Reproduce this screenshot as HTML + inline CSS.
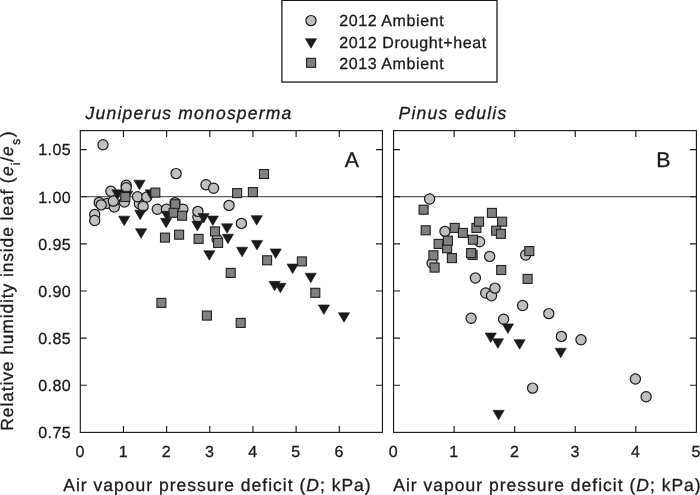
<!DOCTYPE html>
<html><head><meta charset="utf-8"><title>Figure</title>
<style>
html,body{margin:0;padding:0;background:#fff;}
body{width:700px;height:495px;overflow:hidden;}
svg{display:block;will-change:transform;text-rendering:geometricPrecision;font-family:"Liberation Sans",Arial,Helvetica,sans-serif;fill:#1a1a1a;}
.fr{fill:none;stroke:#1a1a1a;stroke-width:1.15;}
.tk{stroke:#1a1a1a;stroke-width:1.15;fill:none;}
.c circle{fill:#bfbfbf;stroke:#1a1a1a;stroke-width:1.2;}
.t path{fill:#1a1a1a;stroke:#1a1a1a;stroke-width:0.6;stroke-linejoin:miter;}
.s rect{fill:#808080;stroke:#1f1f1f;stroke-width:1.1;}
.tl{font-size:16px;letter-spacing:0.45px;}
.ax{font-size:17.5px;}
.it{font-style:italic;}
text{stroke:#1a1a1a;stroke-width:0.3px;}
</style></head><body>
<svg width="700" height="495" viewBox="0 0 700 495">
<rect x="0" y="0" width="700" height="495" fill="#fff"/>

<rect class="fr" x="281.9" y="0.35" width="215.1" height="81.7" style="stroke-width:1.3"/>
<g class="c"><circle cx="311" cy="20.6" r="5.1"/></g>
<g class="t"><path d="M305.40 38.65H316.60L311.00 48.15Z"/></g>
<g class="s"><rect x="306.60" y="58.30" width="9.0" height="9.0"/></g>
<text class="lg" id="lg0" x="339.2" y="26.2" font-size="16" letter-spacing="0.6">2012 Ambient</text>
<text class="lg" id="lg1" x="339.2" y="47.5" font-size="16" letter-spacing="0.6">2012 Drought+heat</text>
<text class="lg" id="lg2" x="339.2" y="68.9" font-size="16" letter-spacing="0.6">2013 Ambient</text>
<text id="tA" class="ax it" x="85.6" y="119.2" letter-spacing="1.2">Juniperus monosperma</text>
<text id="tB" class="ax it" x="398.6" y="119.2" letter-spacing="1.2">Pinus edulis</text>
<path d="M80.3 196.73H382.45" style="stroke:#333;stroke-width:1;fill:none"/>
<path class="tk" d="M123.46 432.4v-6.5M123.46 130.6v6.5M166.63 432.4v-6.5M166.63 130.6v6.5M209.79 432.4v-6.5M209.79 130.6v6.5M252.96 432.4v-6.5M252.96 130.6v6.5M296.12 432.4v-6.5M296.12 130.6v6.5M339.29 432.4v-6.5M339.29 130.6v6.5M80.3 149.60h6.5M382.45 149.60h-6.5M80.3 196.73h6.5M382.45 196.73h-6.5M80.3 243.86h6.5M382.45 243.86h-6.5M80.3 290.99h6.5M382.45 290.99h-6.5M80.3 338.12h6.5M382.45 338.12h-6.5M80.3 385.25h6.5M382.45 385.25h-6.5"/>
<text class="tl" x="80.20" y="457.0" text-anchor="middle">0</text>
<text class="tl" x="123.36" y="457.0" text-anchor="middle">1</text>
<text class="tl" x="166.53" y="457.0" text-anchor="middle">2</text>
<text class="tl" x="209.69" y="457.0" text-anchor="middle">3</text>
<text class="tl" x="252.86" y="457.0" text-anchor="middle">4</text>
<text class="tl" x="296.02" y="457.0" text-anchor="middle">5</text>
<text class="tl" x="339.19" y="457.0" text-anchor="middle">6</text>
<text class="tl" x="71.2" y="155.40" text-anchor="end">1.05</text>
<text class="tl" x="71.2" y="202.53" text-anchor="end">1.00</text>
<text class="tl" x="71.2" y="249.66" text-anchor="end">0.95</text>
<text class="tl" x="71.2" y="296.79" text-anchor="end">0.90</text>
<text class="tl" x="71.2" y="343.92" text-anchor="end">0.85</text>
<text class="tl" x="71.2" y="391.05" text-anchor="end">0.80</text>
<text class="tl" x="71.2" y="438.18" text-anchor="end">0.75</text>
<g class="c"><circle cx="103" cy="144.7" r="5.1"/><circle cx="126.2" cy="185.3" r="5.1"/><circle cx="126.2" cy="187.8" r="5.1"/><circle cx="110.9" cy="191.3" r="5.1"/><circle cx="107.1" cy="203.4" r="5.1"/><circle cx="114.3" cy="207" r="5.1"/><circle cx="99.2" cy="202.4" r="5.1"/><circle cx="101.2" cy="204.9" r="5.1"/><circle cx="113.3" cy="201.1" r="5.1"/><circle cx="124.4" cy="202" r="5.1"/><circle cx="139.4" cy="203.7" r="5.1"/><circle cx="137.5" cy="196.8" r="5.1"/><circle cx="146.8" cy="197" r="5.1"/><circle cx="143.1" cy="206.4" r="5.1"/><circle cx="94.7" cy="214.5" r="5.1"/><circle cx="94.7" cy="220.5" r="5.1"/><circle cx="157.3" cy="209.3" r="5.1"/><circle cx="166.4" cy="209.3" r="5.1"/><circle cx="175" cy="202.7" r="5.1"/><circle cx="176.1" cy="173.6" r="5.1"/><circle cx="206" cy="184.7" r="5.1"/><circle cx="213.6" cy="188.3" r="5.1"/><circle cx="229" cy="205.4" r="5.1"/><circle cx="182.9" cy="209.3" r="5.1"/><circle cx="197.9" cy="217.1" r="5.1"/><circle cx="197.9" cy="211.4" r="5.1"/><circle cx="241.4" cy="223.4" r="5.1"/><circle cx="217.1" cy="239.3" r="5.1"/></g>
<g class="t"><path d="M133.90 180.25H145.10L139.50 189.75Z"/><path d="M111.90 189.85H123.10L117.50 199.35Z"/><path d="M121.60 191.15H132.80L127.20 200.65Z"/><path d="M145.20 189.85H156.40L150.80 199.35Z"/><path d="M134.60 210.15H145.80L140.20 219.65Z"/><path d="M118.60 216.15H129.80L124.20 225.65Z"/><path d="M135.50 228.75H146.70L141.10 238.25Z"/><path d="M160.50 218.25H171.70L166.10 227.75Z"/><path d="M161.50 211.35H172.70L167.10 220.85Z"/><path d="M198.00 213.55H209.20L203.60 223.05Z"/><path d="M207.20 216.05H218.40L212.80 225.55Z"/><path d="M191.80 221.35H203.00L197.40 230.85Z"/><path d="M221.50 223.75H232.70L227.10 233.25Z"/><path d="M222.30 234.25H233.50L227.90 243.75Z"/><path d="M203.70 250.65H214.90L209.30 260.15Z"/><path d="M236.50 247.25H247.70L242.10 256.75Z"/><path d="M251.10 215.65H262.30L256.70 225.15Z"/><path d="M251.40 240.45H262.60L257.00 249.95Z"/><path d="M270.10 248.95H281.30L275.70 258.45Z"/><path d="M287.00 264.05H298.20L292.60 273.55Z"/><path d="M305.10 273.25H316.30L310.70 282.75Z"/><path d="M269.00 281.35H280.20L274.60 290.85Z"/><path d="M274.80 283.25H286.00L280.40 292.75Z"/><path d="M318.30 304.95H329.50L323.90 314.45Z"/><path d="M338.40 312.75H349.60L344.00 322.25Z"/></g>
<g class="s"><rect x="120.80" y="192.50" width="9.0" height="9.0"/><rect x="150.80" y="188.10" width="9.0" height="9.0"/><rect x="170.70" y="199.70" width="9.0" height="9.0"/><rect x="169.10" y="208.30" width="9.0" height="9.0"/><rect x="177.60" y="211.20" width="9.0" height="9.0"/><rect x="160.50" y="233.10" width="9.0" height="9.0"/><rect x="174.60" y="230.20" width="9.0" height="9.0"/><rect x="194.10" y="234.40" width="9.0" height="9.0"/><rect x="210.50" y="226.90" width="9.0" height="9.0"/><rect x="213.60" y="238.40" width="9.0" height="9.0"/><rect x="232.60" y="188.60" width="9.0" height="9.0"/><rect x="248.40" y="187.60" width="9.0" height="9.0"/><rect x="259.50" y="169.50" width="9.0" height="9.0"/><rect x="226.20" y="268.40" width="9.0" height="9.0"/><rect x="156.90" y="298.40" width="9.0" height="9.0"/><rect x="202.40" y="311.10" width="9.0" height="9.0"/><rect x="236.20" y="318.40" width="9.0" height="9.0"/><rect x="262.60" y="255.80" width="9.0" height="9.0"/><rect x="297.40" y="256.90" width="9.0" height="9.0"/><rect x="310.80" y="288.30" width="9.0" height="9.0"/></g>
<rect class="fr" x="80.3" y="130.6" width="302.15" height="301.80"/>
<path d="M393.55 196.73H696.4" style="stroke:#333;stroke-width:1;fill:none"/>
<path class="tk" d="M454.12 432.4v-6.5M454.12 130.6v6.5M514.69 432.4v-6.5M514.69 130.6v6.5M575.26 432.4v-6.5M575.26 130.6v6.5M635.83 432.4v-6.5M635.83 130.6v6.5M393.55 149.60h6.5M696.4 149.60h-6.5M393.55 196.73h6.5M696.4 196.73h-6.5M393.55 243.86h6.5M696.4 243.86h-6.5M393.55 290.99h6.5M696.4 290.99h-6.5M393.55 338.12h6.5M696.4 338.12h-6.5M393.55 385.25h6.5M696.4 385.25h-6.5"/>
<text class="tl" x="393.45" y="457.0" text-anchor="middle">0</text>
<text class="tl" x="454.02" y="457.0" text-anchor="middle">1</text>
<text class="tl" x="514.59" y="457.0" text-anchor="middle">2</text>
<text class="tl" x="575.16" y="457.0" text-anchor="middle">3</text>
<text class="tl" x="635.73" y="457.0" text-anchor="middle">4</text>
<text class="tl" x="696.30" y="457.0" text-anchor="middle">5</text>
<g class="c"><circle cx="429.6" cy="199" r="5.1"/><circle cx="445" cy="231.4" r="5.1"/><circle cx="479.6" cy="241.8" r="5.1"/><circle cx="489.7" cy="256.4" r="5.1"/><circle cx="432.1" cy="263.3" r="5.1"/><circle cx="475.4" cy="278" r="5.1"/><circle cx="485.7" cy="293" r="5.1"/><circle cx="491.5" cy="295.8" r="5.1"/><circle cx="495" cy="288.1" r="5.1"/><circle cx="525.7" cy="255" r="5.1"/><circle cx="522.6" cy="305.5" r="5.1"/><circle cx="471.1" cy="318.3" r="5.1"/><circle cx="503.6" cy="319.3" r="5.1"/><circle cx="548.8" cy="313.6" r="5.1"/><circle cx="561.4" cy="336.4" r="5.1"/><circle cx="581" cy="339.7" r="5.1"/><circle cx="532.6" cy="388.1" r="5.1"/><circle cx="635.4" cy="379" r="5.1"/><circle cx="646.1" cy="396.7" r="5.1"/></g>
<g class="t"><path d="M502.30 323.95H513.50L507.90 333.45Z"/><path d="M485.10 333.05H496.30L490.70 342.55Z"/><path d="M492.30 338.75H503.50L497.90 348.25Z"/><path d="M514.00 339.65H525.20L519.60 349.15Z"/><path d="M555.10 348.25H566.30L560.70 357.75Z"/><path d="M493.00 410.35H504.20L498.60 419.85Z"/></g>
<g class="s"><rect x="419.10" y="205.20" width="9.0" height="9.0"/><rect x="421.20" y="225.80" width="9.0" height="9.0"/><rect x="450.20" y="223.40" width="9.0" height="9.0"/><rect x="458.40" y="228.40" width="9.0" height="9.0"/><rect x="471.90" y="223.40" width="9.0" height="9.0"/><rect x="474.50" y="217.20" width="9.0" height="9.0"/><rect x="468.40" y="235.20" width="9.0" height="9.0"/><rect x="487.40" y="208.40" width="9.0" height="9.0"/><rect x="497.60" y="217.20" width="9.0" height="9.0"/><rect x="491.70" y="226.20" width="9.0" height="9.0"/><rect x="496.40" y="229.30" width="9.0" height="9.0"/><rect x="434.10" y="239.40" width="9.0" height="9.0"/><rect x="442.60" y="243.70" width="9.0" height="9.0"/><rect x="443.40" y="236.20" width="9.0" height="9.0"/><rect x="428.90" y="250.80" width="9.0" height="9.0"/><rect x="447.40" y="253.60" width="9.0" height="9.0"/><rect x="430.10" y="263.10" width="9.0" height="9.0"/><rect x="468.10" y="250.50" width="9.0" height="9.0"/><rect x="466.60" y="248.60" width="9.0" height="9.0"/><rect x="496.70" y="265.50" width="9.0" height="9.0"/><rect x="524.80" y="246.60" width="9.0" height="9.0"/><rect x="523.10" y="274.40" width="9.0" height="9.0"/></g>
<rect class="fr" x="393.55" y="130.6" width="302.85" height="301.80"/>
<text id="pA" x="344.8" y="167" font-size="21.3">A</text>
<text id="pB" x="656.3" y="167" font-size="21.3">B</text>
<text id="xA" class="ax" x="63.3" y="490.6" letter-spacing="1">Air vapour pressure deficit (<tspan class="it">D</tspan>; kPa)</text>
<text id="xB" class="ax" x="393.3" y="490.6" letter-spacing="1">Air vapour pressure deficit (<tspan class="it">D</tspan>; kPa)</text>
<text id="yL" class="ax" transform="translate(13.4 430.7) rotate(-90)" letter-spacing="0.86">Relative humidity inside leaf (<tspan class="it" dx="0.5">e</tspan><tspan font-size="12.5" dy="6.8">i</tspan><tspan dy="-6.8">/</tspan><tspan class="it">e</tspan><tspan font-size="12.5" dy="6.8" dx="0.3">s</tspan><tspan dy="-6.8" dx="0.6">)</tspan></text>
</svg></body></html>
